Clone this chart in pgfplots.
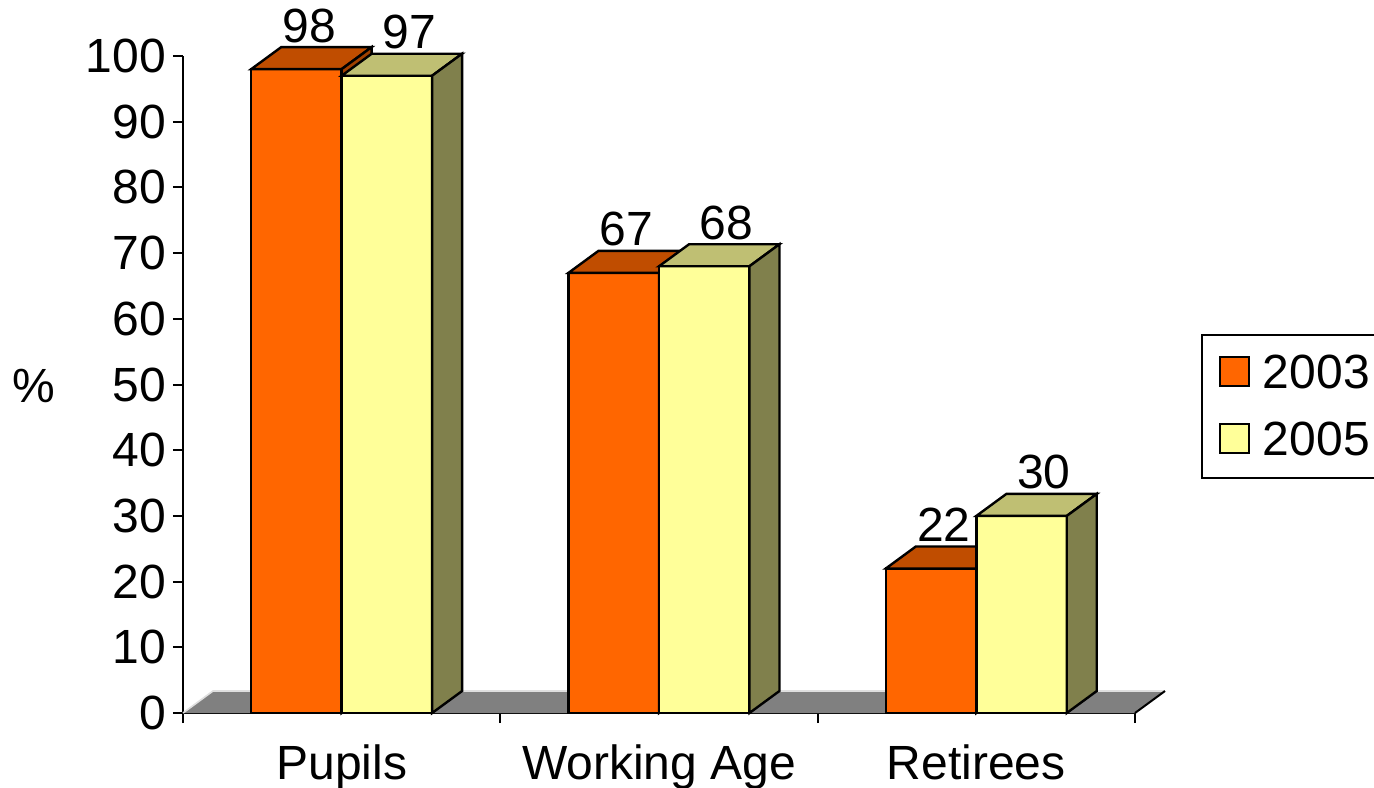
\documentclass[border=0pt]{standalone}
\usepackage{pgfplots}
\pgfplotsset{compat=1.18}
\usepackage{pgfplotstable}
\usepackage{fontspec}
\setmainfont{Liberation Sans}

\newcommand\fsz{\fontsize{24}{28}\selectfont}

\definecolor{front03}{HTML}{FF6600}
\definecolor{top03}{HTML}{C04D00}
\definecolor{side03}{HTML}{A04000}
\definecolor{front05}{HTML}{FFFF99}
\definecolor{top05}{HTML}{BFBF73}
\definecolor{side05}{HTML}{80804C}
\definecolor{floorgray}{HTML}{808080}

\pgfplotstableread{
x y
0 98
1 67
2 22
}\dataA
\pgfplotstableread{
x y
0 97
1 68
2 30
}\dataB

% one 3d bar per point: bar width 45.2pt, depth 15pt right and 11pt up, 3.285pt per percent
\pgfplotsset{
  bar3d/.style n args={3}{
    forget plot, only marks, scatter, mark=*, mark size=0pt,
    mark options={draw=none, fill=none},
    visualization depends on={\thisrow{y} \as \valy},
    scatter/@pre marker code/.code={
      \pgfkeys{/pgf/fpu=false}
      \pgfmathsetlengthmacro\hh{\valy*3.285pt}
      \filldraw[fill=#1, draw=black, line width=1.2pt]
        ({-22.6pt},{-\hh}) rectangle (22.6pt,0pt);
      \filldraw[fill=#2, draw=black, line width=1.2pt]
        (-22.6pt,0pt) -- (-7.6pt,11pt) -- (37.6pt,11pt) -- (22.6pt,0pt) -- cycle;
      \filldraw[fill=#3, draw=black, line width=1.2pt]
        (22.6pt,0pt) -- (37.6pt,11pt) -- ({37.6pt},{11pt-\hh}) -- ({22.6pt},{-\hh}) -- cycle;
    },
    scatter/@post marker code/.code={},
  },
  barlabel/.style={
    forget plot, draw=none, mark=none, nodes near coords,
    every node near coord/.append style={anchor=base, inner sep=0pt, font=\fsz, text=black, yshift=13.5pt},
  },
}

\begin{document}
\begin{tikzpicture}
\useasboundingbox (-91.5pt,-37pt) rectangle (595.5pt,356.5pt);
\begin{axis}[
  at={(0pt,0pt)}, anchor=south west,
  scale only axis, width=476pt, height=328.5pt,
  xmin=-0.5, xmax=2.5, ymin=0, ymax=100,
  clip=false,
  axis x line*=bottom, axis y line*=left,
  axis line style={line width=1pt, -},
  xtick={-0.5,0.5,1.5,2.5}, xticklabels={},
  extra x ticks={0,1,2},
  extra x tick labels={Pupils,Working Age,Retirees},
  extra x tick style={major tick length=0pt, tick label style={yshift=-12.5pt}},
  ytick={0,10,...,100},
  tick align=outside, major tick length=5pt,
  tick style={black, line width=1pt},
  tick label style={font=\fsz},
  /pgf/number format/assume math mode=true,
  ylabel={\%},
  ylabel style={rotate=-90, font=\fsz, at={(axis description cs:-0.1565,0.4977)}, anchor=center},
  legend cell align=left,
  legend style={at={(axis description cs:1.0693,0.5769)}, anchor=north west,
    draw=black, line width=1pt, font=\fsz,
    inner xsep=8.5pt, inner ysep=10pt, row sep=15pt, nodes={inner sep=0pt},
    /tikz/every odd column/.append style={column sep=6.5pt}},
]
% floor
\addplot[forget plot, fill=floorgray, draw=none] coordinates {(-0.5,0) (2.5,0) (2.5945,3.35) (-0.4055,3.35) (-0.5,0)};
\addplot[forget plot, gray!25, line width=0.8pt] coordinates {(-0.5,0) (-0.4055,3.35) (2.5945,3.35)};
\addplot[forget plot, black, line width=1pt] coordinates {(2.5,0) (2.5945,3.35)};

% bars
\addplot[bar3d={front03}{top03}{side03}] table[x expr=\thisrow{x}-0.1426, y=y] {\dataA};
\addplot[bar3d={front05}{top05}{side05}] table[x expr=\thisrow{x}+0.1426, y=y] {\dataB};

% value labels
\addplot[barlabel] table[x expr=\thisrow{x}-0.1426+0.04, y=y] {\dataA};
\addplot[barlabel] table[x expr=\thisrow{x}+0.1426+0.07, y=y] {\dataB};

\addlegendimage{legend image code/.code={\draw[fill=front03, draw=black, line width=1pt] (0pt,-6.5pt) rectangle (14.5pt,8pt);}}
\addlegendentry{2003\hspace*{6pt}}
\addlegendimage{legend image code/.code={\draw[fill=front05, draw=black, line width=1pt] (0pt,-6.5pt) rectangle (14.5pt,8pt);}}
\addlegendentry{2005\hspace*{6pt}}
\end{axis}
\end{tikzpicture}
\end{document}
